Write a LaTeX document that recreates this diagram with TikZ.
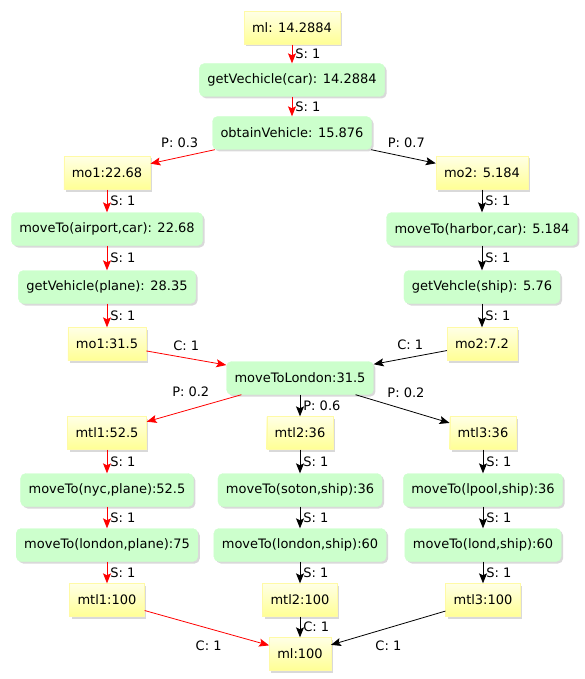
\documentclass[tikz,border=0pt]{standalone}
\usepackage{fontspec}
\setmainfont{DejaVu Sans}
\usepackage{tikz}
\usetikzlibrary{arrows.meta,positioning,shadows}

\begin{document}
\begin{tikzpicture}[x=1pt, y=1pt, on grid,
    every node/.style={font=\fontsize{13}{15}\selectfont, text=black},
    cost/.style={rectangle, draw=yellow!35!white, top color=yellow!10, bottom color=yellow!42,
      minimum height=33pt, inner xsep=8pt, drop shadow={shadow xshift=2pt, shadow yshift=-2pt, opacity=0.3}},
    task/.style={rectangle, rounded corners=5pt, fill=green!20, draw=green!20,
      minimum height=33pt, inner xsep=8pt, drop shadow={shadow xshift=2pt, shadow yshift=-2pt, opacity=0.3}},
    slbl/.style={right, inner sep=2pt, xshift=1pt},
    link/.style={line width=0.8pt, -{Stealth[length=10pt, width=8pt, inset=2pt]}}]
  \useasboundingbox (0,0) rectangle (585,-679);

  % top of the plan
  \node[cost] (ml0) at (292,-28) {ml: 14.2884};
  \node[task, below=52pt of ml0] (getcar) {getVechicle(car): 14.2884};
  \node[task, below=53pt of getcar] (obtain) {obtainVehicle: 15.876};

  % the two ways to get a vehicle
  \node[cost, below left=40pt and 185pt of obtain] (mo1a) {mo1:22.68};
  \node[task, below=56pt of mo1a] (mvairport) {moveTo(airport,car): 22.68};
  \node[task, below=58pt of mvairport] (getplane) {getVehicle(plane): 28.35};
  \node[cost, below=57pt of getplane] (mo1b) {mo1:31.5};

  \node[cost, below right=40pt and 190pt of obtain] (mo2a) {mo2: 5.184};
  \node[task, below=56pt of mo2a] (mvharbor) {moveTo(harbor,car): 5.184};
  \node[task, below=58pt of mvharbor] (getship) {getVehcle(ship): 5.76};
  \node[cost, below=57pt of getship] (mo2b) {mo2:7.2};

  \node[task, below right=34pt and 193pt of mo1b] (london) {moveToLondon:31.5};

  % three routes to london
  \node[cost, below left=55pt and 193pt of london] (mtl1a) {mtl1:52.5};
  \node[task, below=57pt of mtl1a] (mvnyc) {moveTo(nyc,plane):52.5};
  \node[task, below=55pt of mvnyc] (mvlonplane) {moveTo(london,plane):75};
  \node[cost, below=55pt of mvlonplane] (mtl1b) {mtl1:100};

  \node[cost, below=55pt of london] (mtl2a) {mtl2:36};
  \node[task, below=57pt of mtl2a] (mvsoton) {moveTo(soton,ship):36};
  \node[task, below=55pt of mvsoton] (mvlonship) {moveTo(london,ship):60};
  \node[cost, below=55pt of mvlonship] (mtl2b) {mtl2:100};

  \node[cost, below right=55pt and 183pt of london] (mtl3a) {mtl3:36};
  \node[task, below=57pt of mtl3a] (mvlpool) {moveTo(lpool,ship):36};
  \node[task, below=55pt of mvlpool] (mvlond) {moveTo(lond,ship):60};
  \node[cost, below=55pt of mvlond] (mtl3b) {mtl3:100};

  \node[cost, below=54pt of mtl2b] (mlend) {ml:100};

  % chosen plan in red
  \path[link, red]
    (ml0) edge node[slbl] {S: 1} (getcar)
    (getcar) edge node[slbl] {S: 1} (obtain)
    (obtain) edge node[pos=0.2, above left, yshift=1pt] {P: 0.3} (mo1a)
    (mo1a) edge node[slbl] {S: 1} (mvairport)
    (mvairport) edge node[slbl] {S: 1} (getplane)
    (getplane) edge node[slbl] {S: 1} (mo1b)
    (mo1b) edge node[above, yshift=4pt] {C: 1} (london)
    (london) edge node[pos=0.3, above left, yshift=2pt] {P: 0.2} (mtl1a)
    (mtl1a) edge node[slbl] {S: 1} (mvnyc)
    (mvnyc) edge node[slbl] {S: 1} (mvlonplane)
    (mvlonplane) edge node[slbl] {S: 1} (mtl1b)
    (mtl1b) edge node[pos=0.6, below left, yshift=-6pt, xshift=6pt] {C: 1} (mlend);

  \path[link, black]
    (obtain) edge node[pos=0.2, above right, yshift=1pt] {P: 0.7} (mo2a)
    (mo2a) edge node[slbl] {S: 1} (mvharbor)
    (mvharbor) edge node[slbl] {S: 1} (getship)
    (getship) edge node[slbl] {S: 1} (mo2b)
    (mo2b) edge node[above, yshift=4pt] {C: 1} (london)
    (london) edge node[slbl] {P: 0.6} (mtl2a)
    (london) edge node[pos=0.3, above right, yshift=2pt] {P: 0.2} (mtl3a)
    (mtl2a) edge node[slbl] {S: 1} (mvsoton)
    (mvsoton) edge node[slbl] {S: 1} (mvlonship)
    (mvlonship) edge node[slbl] {S: 1} (mtl2b)
    (mtl2b) edge node[slbl] {C: 1} (mlend)
    (mtl3a) edge node[slbl] {S: 1} (mvlpool)
    (mvlpool) edge node[slbl] {S: 1} (mvlond)
    (mvlond) edge node[slbl] {S: 1} (mtl3b)
    (mtl3b) edge node[pos=0.6, below right, yshift=-6pt, xshift=-5pt] {C: 1} (mlend);
\end{tikzpicture}
\end{document}
